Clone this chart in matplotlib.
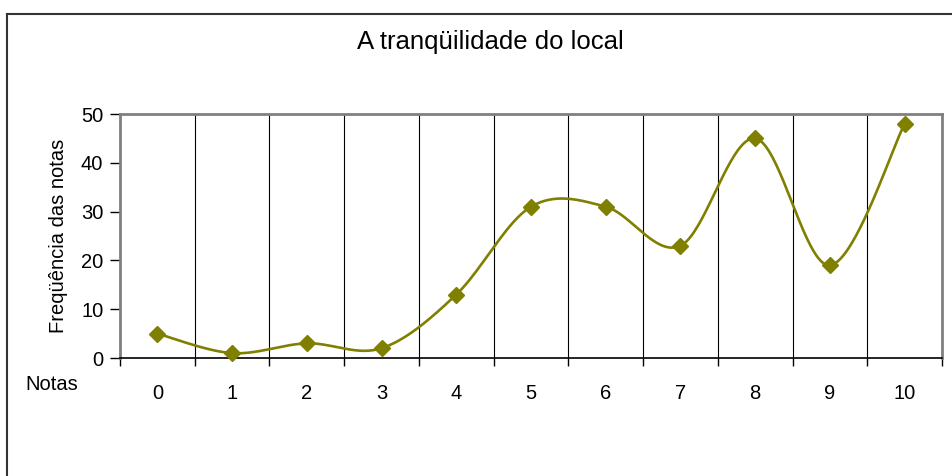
import numpy as np
import matplotlib
matplotlib.use("Agg")
import matplotlib.pyplot as plt
from matplotlib.lines import Line2D

plt.rcParams['font.family'] = ['Liberation Sans', 'DejaVu Sans']

title = "A tranqüilidade do local"
ylabel = "Freqüência das notas"
xlabel = "Notas"
categories = ["0", "1", "2", "3", "4", "5", "6", "7", "8", "9", "10"]
values = [5, 1, 3, 2, 13, 31, 31, 23, 45, 19, 48]
yticks = [0, 10, 20, 30, 40, 50]

color = "#808000"

fig = plt.figure(figsize=(9.53, 4.76), dpi=100)
ax = fig.add_axes([120/953, 1-358/476, 822/953, 244/476])

x = np.arange(len(values), dtype=float)
y = np.array(values, dtype=float)

# Smoothed line (Catmull-Rom style Bezier, like Excel smoothing)
xs, ys = [], []
n = len(x)
t = np.linspace(0, 1, 40)
for i in range(n - 1):
    p0 = np.array([x[max(i-1, 0)], y[max(i-1, 0)]])
    p1 = np.array([x[i], y[i]])
    p2 = np.array([x[i+1], y[i+1]])
    p3 = np.array([x[min(i+2, n-1)], y[min(i+2, n-1)]])
    b1 = p1 + (p2 - p0) / 6
    b2 = p2 - (p3 - p1) / 6
    pts = ((1-t)**3)[:, None]*p1 + (3*(1-t)**2*t)[:, None]*b1 + (3*(1-t)*t**2)[:, None]*b2 + (t**3)[:, None]*p2
    xs.extend(pts[:, 0]); ys.extend(pts[:, 1])
ax.plot(xs, ys, color=color, lw=1.9, zorder=3, clip_on=False)
ax.plot(x, y, linestyle='none', marker='D', color=color, markersize=8.5, zorder=4, clip_on=False)

ax.set_xlim(-0.5, len(values) - 0.5)
ax.set_ylim(0, 50)

# gridlines at category boundaries
bounds = np.arange(-0.5, len(values) + 0.5, 1.0)
ax.set_xticks(bounds)
ax.set_xticklabels([])
ax.set_xticks(x, minor=True)
ax.set_xticklabels(categories, minor=True)
ax.tick_params(axis='x', which='major', direction='out', length=6, width=1, color='black')
ax.tick_params(axis='x', which='minor', length=0, pad=19, labelsize=14.5)
ax.xaxis.grid(True, which='major', color='black', lw=0.8)
ax.set_axisbelow(True)

ax.set_yticks(yticks)
ax.tick_params(axis='y', direction='out', length=7, width=1, labelsize=14.5, pad=5)

for s in ['top', 'right']:
    ax.spines[s].set_color('#808080')
    ax.spines[s].set_linewidth(2)
ax.spines['left'].set_color('#808080')
ax.spines['left'].set_linewidth(2)
ax.spines['bottom'].set_color('black')
ax.spines['bottom'].set_linewidth(1.2)

ax.set_ylabel(ylabel, fontsize=14.5, labelpad=9)
fig.text(25/953, 1-385/476, xlabel, fontsize=14.5, ha='left', va='center')
fig.text(490/953, 1-42/476, title, fontsize=18.5, ha='center', va='center')

# outer chart border (partly cropped)
fig.add_artist(Line2D([7.5/953, 7.5/953], [0, 1-13.5/476], transform=fig.transFigure, color='#333333', lw=1.5))
fig.add_artist(Line2D([7.5/953, 1], [1-13.5/476, 1-13.5/476], transform=fig.transFigure, color='#333333', lw=1.5))

fig.savefig("out.png", dpi=100)
